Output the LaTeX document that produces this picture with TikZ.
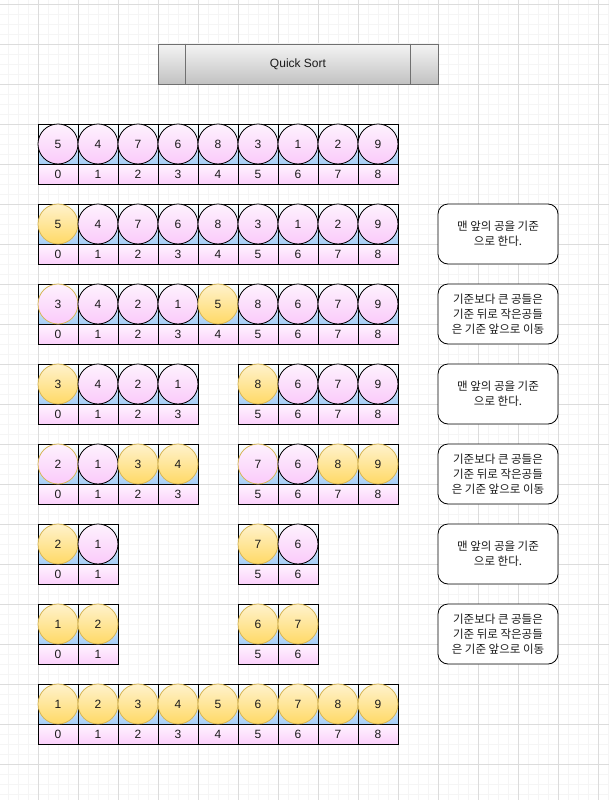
\documentclass[tikz,border=0pt]{standalone}
\usepackage{fontspec}
\setmainfont{Liberation Sans}
\newfontfamily\krfont{Noto Sans CJK KR}
\definecolor{gridminor}{HTML}{F5F5F5}
\definecolor{gridmajor}{HTML}{DCDCDC}
\definecolor{pinktop}{HTML}{FEF2FE}
\definecolor{pinkbot}{HTML}{FACAFA}
\definecolor{idxtop}{HTML}{FFF4FF}
\definecolor{idxbot}{HTML}{FBD0FB}
\definecolor{bluebot}{HTML}{A6CEF6}
\definecolor{ytop}{HTML}{FFF2CC}
\definecolor{ybot}{HTML}{FFD966}
\definecolor{tan}{HTML}{D6B656}
\definecolor{titletop}{HTML}{F4F4F4}
\definecolor{titlebot}{HTML}{C2C2C2}
\definecolor{titleline}{HTML}{707070}
\definecolor{txt}{HTML}{1A1A1A}
\tikzset{
  ballcell/.style={rectangle,draw=black,line width=0.8pt,top color=white,bottom color=bluebot,minimum width=40pt,minimum height=40pt,inner sep=0pt,outer sep=0pt},
  idxcell/.style={rectangle,draw=black,line width=0.8pt,top color=idxtop,bottom color=idxbot,minimum width=40pt,minimum height=20pt,inner sep=0pt,outer sep=0pt,text=txt,font=\fontsize{12}{14}\selectfont},
  ballbase/.style={circle,minimum size=40pt,inner sep=0pt,outer sep=0pt,line width=0.8pt,text=txt,font=\fontsize{12}{14}\selectfont},
  P/.style={ballbase,draw=black,top color=pinktop,bottom color=pinkbot},
  T/.style={ballbase,draw=tan,top color=pinktop,bottom color=pinkbot},
  Y/.style={ballbase,draw=tan,top color=ytop,bottom color=ybot},
  notebox/.style={rectangle,draw=black,line width=0.8pt,rounded corners=10pt,fill=white,minimum width=120pt,minimum height=60pt,inner sep=2pt,align=center,text=txt,font=\krfont\fontsize{11.5}{15}\selectfont},
  titlebox/.style={rectangle,draw=titleline,line width=0.8pt,top color=titletop,bottom color=titlebot,minimum width=280pt,minimum height=40pt,inner sep=0pt,text=txt,font=\fontsize{12}{14}\selectfont}
}
\newcommand\ballrow[3]{%
  \foreach \c/\v/\s in {#3} {
    \node[ballcell] (#1c\c) at (58+40*\c,#2+20) {};
    \node[idxcell] (#1i\c) at (58+40*\c,#2+50) {\c};
  }
  \foreach \c/\v/\s in {#3} {
    \node[\s] (#1b\c) at (58+40*\c,#2+20) {\v};
  }
}
\begin{document}
\begin{tikzpicture}[x=1pt,y=-1pt]
\useasboundingbox (0,0) rectangle (609,800);
\fill[white] (0,0) rectangle (609,800);
% grid
\begin{scope}
\clip (0,0) rectangle (609,800);
\foreach \i in {0,...,61} \draw[gridminor,line width=0.6pt] (-2+10*\i,0) -- (-2+10*\i,800);
\foreach \i in {0,...,80} \draw[gridminor,line width=0.6pt] (0,4+10*\i) -- (609,4+10*\i);
\foreach \i in {0,...,15} \draw[gridmajor,line width=0.6pt] (-2+40*\i,0) -- (-2+40*\i,800);
\foreach \i in {0,...,20} \draw[gridmajor,line width=0.6pt] (0,4+40*\i) -- (609,4+40*\i);
\end{scope}
% title
\node[titlebox] (title) at (298,64) {Quick Sort};
\draw[titleline,line width=0.8pt] ([xshift=28pt]title.north west) -- ([xshift=28pt]title.south west);
\draw[titleline,line width=0.8pt] ([xshift=-28pt]title.north east) -- ([xshift=-28pt]title.south east);
% rows
\ballrow{ra}{124}{0/5/P,1/4/P,2/7/P,3/6/P,4/8/P,5/3/P,6/1/P,7/2/P,8/9/P}
\ballrow{rb}{204}{0/5/Y,1/4/P,2/7/P,3/6/P,4/8/P,5/3/P,6/1/P,7/2/P,8/9/P}
\ballrow{rc}{284}{0/3/T,1/4/P,2/2/P,3/1/P,4/5/Y,5/8/P,6/6/P,7/7/P,8/9/P}
\ballrow{rd}{364}{0/3/Y,1/4/P,2/2/P,3/1/P,5/8/Y,6/6/P,7/7/P,8/9/P}
\ballrow{re}{444}{0/2/T,1/1/P,2/3/Y,3/4/Y,5/7/T,6/6/P,7/8/Y,8/9/Y}
\ballrow{rf}{524}{0/2/Y,1/1/P,5/7/Y,6/6/P}
\ballrow{rg}{604}{0/1/Y,1/2/Y,5/6/Y,6/7/Y}
\ballrow{rh}{684}{0/1/Y,1/2/Y,2/3/Y,3/4/Y,4/5/Y,5/6/Y,6/7/Y,7/8/Y,8/9/Y}
% notes
\node[notebox] (n1) at (498,234) {맨 앞의 공을 기준\\으로 한다.};
\node[notebox] (n2) at (498,314) {기준보다 큰 공들은\\기준 뒤로 작은공들\\은 기준 앞으로 이동};
\node[notebox] (n3) at (498,394) {맨 앞의 공을 기준\\으로 한다.};
\node[notebox] (n4) at (498,474) {기준보다 큰 공들은\\기준 뒤로 작은공들\\은 기준 앞으로 이동};
\node[notebox] (n5) at (498,554) {맨 앞의 공을 기준\\으로 한다.};
\node[notebox] (n6) at (498,634) {기준보다 큰 공들은\\기준 뒤로 작은공들\\은 기준 앞으로 이동};
\end{tikzpicture}
\end{document}
